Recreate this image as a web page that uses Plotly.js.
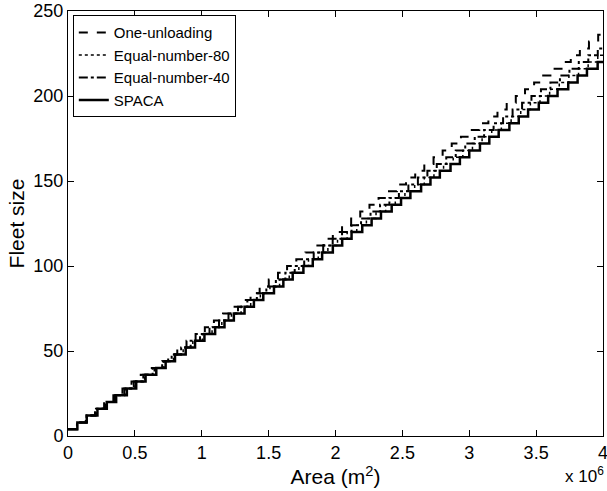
<!DOCTYPE html>
<html>
<head>
<meta charset="utf-8">
<script src="https://cdn.plot.ly/plotly-3.0.1.min.js"></script>
<style>html,body{margin:0;padding:0;background:#fff;}#chart{width:607px;height:491px;}</style>
</head>
<body>
<div id="chart"></div>
<script>
// Areas in units of 10^6 m^2 where the fleet size steps up
const oneUnloadingSteps = [0.065,0.133,0.202,0.270,0.339,0.407,0.475,0.544,0.612,0.681,0.749,0.817,0.886,0.954,1.023,1.091,1.159,1.228,1.296,1.365,1.433,1.501,1.570,1.638,1.707,1.775,1.843,1.912,1.980,2.049,2.117,2.185,2.254,2.322,2.391,2.459,2.527,2.596,2.664,2.733,2.801,2.869,2.938,3.006,3.075,3.143,3.211,3.280,3.348,3.417,3.485,3.553,3.622,3.690,3.759,3.827,3.895,3.964];
const oneUnloadingFleet = [4,8,12,16,20,24,28,32,36,40,44,48,52,56,60,64,68,72,76,80,84,88,92,96,100,104,108,112,116,120,124,128,132,136,140,144,148,152,156,160,164,168,172,176,180,184,188,192,196,200,204,208,212,216,220,224,228,232,236];

const equal80Steps = [0.068,0.140,0.212,0.284,0.356,0.429,0.501,0.573,0.645,0.717,0.789,0.861,0.933,1.005,1.077,1.150,1.222,1.294,1.366,1.438,1.510,1.582,1.654,1.726,1.798,1.871,1.943,2.015,2.087,2.159,2.231,2.303,2.375,2.447,2.519,2.592,2.664,2.736,2.808,2.880,2.952,3.024,3.096,3.168,3.240,3.313,3.385,3.457,3.529,3.601,3.673,3.745,3.817,3.889,3.961];
const equal80Fleet = [4,8,12,16,20,24,28,32,36,40,44,48,52,56,60,64,68,72,76,80,84,88,92,96,100,104,108,112,116,120,124,128,132,136,140,144,148,152,156,160,164,168,172,176,180,184,188,192,196,200,204,208,212,216,220,224];

const equal40Steps = [0.067,0.138,0.209,0.279,0.350,0.421,0.492,0.563,0.633,0.704,0.775,0.846,0.917,0.987,1.058,1.129,1.200,1.271,1.341,1.412,1.483,1.554,1.625,1.695,1.766,1.837,1.908,1.979,2.049,2.120,2.191,2.262,2.333,2.403,2.474,2.545,2.616,2.687,2.757,2.828,2.899,2.970,3.041,3.111,3.182,3.253,3.324,3.395,3.465,3.536,3.607,3.678,3.749,3.819,3.890,3.961];
const equal40Fleet = [4,8,12,16,20,24,28,32,36,40,44,48,52,56,60,64,68,72,76,80,84,88,92,96,100,104,108,112,116,120,124,128,132,136,140,144,148,152,156,160,164,168,172,176,180,184,188,192,196,200,204,208,212,216,220,224,228];

const spacaSteps = [0.07,0.14,0.22,0.29,0.36,0.44,0.51,0.58,0.66,0.73,0.80,0.88,0.95,1.02,1.10,1.17,1.24,1.32,1.39,1.46,1.54,1.61,1.68,1.76,1.83,1.90,1.98,2.05,2.12,2.20,2.27,2.34,2.42,2.49,2.56,2.64,2.71,2.78,2.86,2.93,3.00,3.08,3.15,3.22,3.30,3.37,3.44,3.52,3.59,3.66,3.74,3.81,3.88,3.96];
const spacaFleet = [4,8,12,16,20,24,28,32,36,40,44,48,52,56,60,64,68,72,76,80,84,88,92,96,100,104,108,112,116,120,124,128,132,136,140,144,148,152,156,160,164,168,172,176,180,184,188,192,196,200,204,208,212,216,220];

const seriesNames = ["One-unloading","Equal-number-80","Equal-number-40","SPACA"];
const xTickVals = [0,0.5,1,1.5,2,2.5,3,3.5,4];
const xTickText = ["0","0.5","1","1.5","2","2.5","3","3.5","4"];
const yTickVals = [0,50,100,150,200,250];

const xMin = 0, xMax = 4;

function stairs(steps, fleet) {
  return {
    x: [xMin].concat(steps).concat([xMax]),
    y: fleet.concat([fleet[fleet.length - 1]])
  };
}

const defs = [
  [oneUnloadingSteps, oneUnloadingFleet, "dash", 2],
  [equal80Steps, equal80Fleet, "dot", 1.5],
  [equal40Steps, equal40Fleet, "dashdot", 2],
  [spacaSteps, spacaFleet, "solid", 2.5]
];

const traces = defs.map((d, i) => {
  const s = stairs(d[0], d[1]);
  return {
    x: s.x, y: s.y, type: "scatter", mode: "lines",
    line: {shape: "hv", color: "#000", dash: d[2], width: d[3]},
    name: seriesNames[i]
  };
});

const font = "Liberation Sans, Arial, Helvetica, sans-serif";

const layout = {
  width: 607, height: 491,
  margin: {l: 68, r: 4, t: 11, b: 55},
  paper_bgcolor: "#fff", plot_bgcolor: "#fff",
  font: {family: font, size: 18, color: "#000"},
  showlegend: true,
  legend: {
    x: 0.009, y: 0.99, xanchor: "left", yanchor: "top",
    bordercolor: "#000", borderwidth: 1, bgcolor: "#fff",
    font: {family: font, size: 15, color: "#000"},
    tracegroupgap: 0
  },
  xaxis: {
    range: [xMin, xMax], tickvals: xTickVals, ticktext: xTickText,
    ticks: "inside", ticklen: 6, tickcolor: "#000", tickwidth: 1,
    showline: true, linecolor: "#000", linewidth: 1, mirror: "ticks",
    showgrid: false, zeroline: false, ticklabeloverflow: "allow",
    tickfont: {family: font, size: 18, color: "#000"},
    title: {text: "Area (m<sup>2</sup>)", font: {family: font, size: 21, color: "#000"}, standoff: 4}
  },
  yaxis: {
    range: [0, 250], tickvals: yTickVals,
    ticks: "inside", ticklen: 6, tickcolor: "#000", tickwidth: 1,
    showline: true, linecolor: "#000", linewidth: 1, mirror: "ticks",
    showgrid: false, zeroline: false, ticklabeloverflow: "allow",
    tickfont: {family: font, size: 18, color: "#000"},
    title: {text: "Fleet size", font: {family: font, size: 21, color: "#000"}, standoff: 3}
  },
  annotations: [{
    text: "x 10<sup>6</sup>", xref: "paper", yref: "paper",
    x: 1.005, y: -0.062, xanchor: "right", yanchor: "top", showarrow: false,
    font: {family: font, size: 17, color: "#000"}
  }]
};

Plotly.newPlot("chart", traces, layout, {displayModeBar: false, staticPlot: true});
</script>
</body>
</html>
